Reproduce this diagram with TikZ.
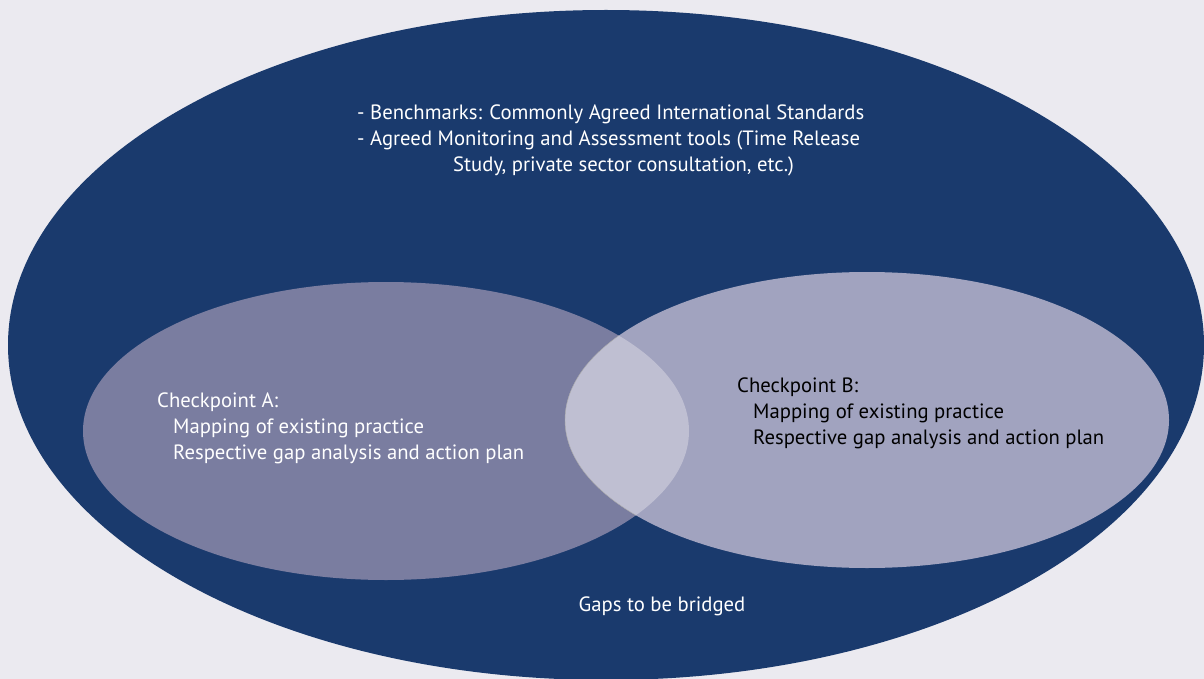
\documentclass[tikz,border=0pt]{standalone}
\usepackage{fontspec}
\setmainfont{PT Sans}
\usepackage{xcolor}
\definecolor{fondo}{HTML}{EBEAF0}
\definecolor{azul}{HTML}{1A3A6D}
\definecolor{grisA}{HTML}{7A7DA0}
\definecolor{grisB}{HTML}{A1A3BF}
\definecolor{grisAB}{HTML}{BFBFD2}
\tikzset{
  texto/.style={align=left, inner sep=0pt, font=\fontsize{20.7}{25.8}\selectfont},
}

\begin{document}
\begin{tikzpicture}[x=1pt,y=-1pt]
		\fill[fondo] (0,0) rectangle (1204,679); % fondo
		\useasboundingbox (0,0) rectangle (1204,679);
		\clip (0,0) rectangle (1204,679);
		\fill[azul] (606,345) ellipse [x radius=598pt, y radius=335pt]; % elipse grande
		\fill[grisA] (386,431) ellipse [x radius=303pt, y radius=149pt]; % checkpoint A
		\fill[grisB] (867,420) ellipse [x radius=302pt, y radius=148pt]; % checkpoint B
		\begin{scope}
		\clip (386,431) ellipse [x radius=303pt, y radius=149pt];
		\fill[grisAB, draw=gray!70, line width=0.4pt] (867,420) ellipse [x radius=302pt, y radius=148pt];
		\end{scope}
		\node[texto, white, anchor=north west] (bench) at (357,105) {- Benchmarks: Commonly Agreed International Standards\\
		- Agreed Monitoring and Assessment tools (Time Release\\
		\hspace*{96pt}Study, private sector consultation, etc.)};
		\node[texto, white, anchor=north west] (cpA) at (157,393) {Checkpoint A:\\
		\hspace*{16pt}Mapping of existing practice\\
		\hspace*{16pt}Respective gap analysis and action plan};
		\node[texto, black, anchor=north west] (cpB) at (737,378) {Checkpoint B:\\
		\hspace*{16pt}Mapping of existing practice\\
		\hspace*{16pt}Respective gap analysis and action plan};
		\node[texto, white] (gaps) at (662,606) {Gaps to be bridged};
		\end{tikzpicture}
\end{document}
